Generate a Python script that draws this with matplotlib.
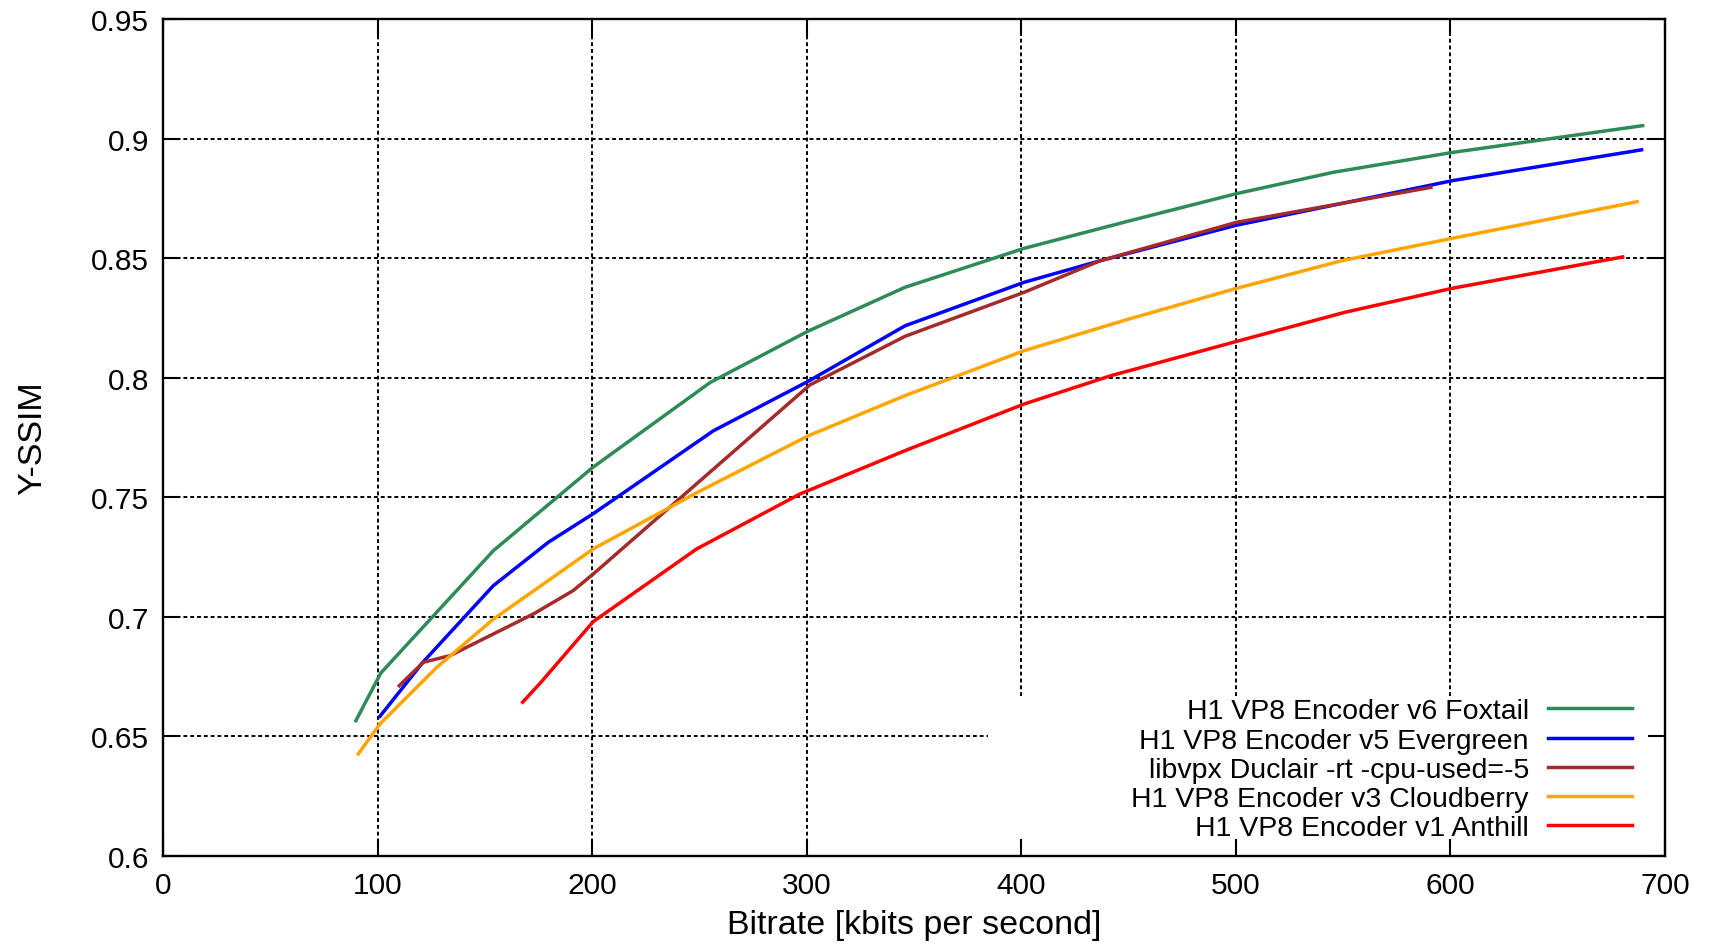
import matplotlib
matplotlib.use("Agg")
from matplotlib import pyplot as plt

# Bitrate (kbits/s) and Y-SSIM for each encoder
foxtail_kbps = [89.9, 101.5, 154.0, 200.3, 255.0, 300.7, 345.8, 401.3, 450.0, 500.4, 545.4, 600.9, 689.6]
foxtail_ssim = [0.6566, 0.6765, 0.7277, 0.7625, 0.7980, 0.8195, 0.8378, 0.8541, 0.8655, 0.8770, 0.8859, 0.8942, 0.9054]

evergreen_kbps = [101.1, 121.3, 153.9, 179.6, 200.3, 256.5, 300.7, 345.8, 401.3, 436.7, 500.4, 600.9, 689.1]
evergreen_ssim = [0.6584, 0.6812, 0.7130, 0.7312, 0.7430, 0.7778, 0.7985, 0.8217, 0.8399, 0.8489, 0.8638, 0.8824, 0.8953]

duclair_kbps = [110.1, 121.3, 133.8, 172.6, 191.2, 200.5, 301.5, 345.8, 401.3, 436.7, 500.4, 590.9]
duclair_ssim = [0.6712, 0.6810, 0.6838, 0.7012, 0.7110, 0.7179, 0.7970, 0.8173, 0.8357, 0.8489, 0.8650, 0.8796]

cloudberry_kbps = [91.0, 101.1, 127.6, 153.9, 200.5, 250.0, 300.7, 345.8, 401.3, 450.0, 500.4, 549.7, 600.9, 687.0]
cloudberry_ssim = [0.6427, 0.6552, 0.6789, 0.6990, 0.7284, 0.7525, 0.7757, 0.7925, 0.8113, 0.8245, 0.8374, 0.8490, 0.8583, 0.8736]

anthill_kbps = [167.6, 176.0, 200.5, 248.7, 296.9, 345.8, 401.3, 441.6, 500.4, 551.0, 600.9, 680.3]
anthill_ssim = [0.6643, 0.6725, 0.6980, 0.7284, 0.7514, 0.7695, 0.7890, 0.8008, 0.8152, 0.8274, 0.8374, 0.8505]

labels = [
    "H1 VP8 Encoder v6 Foxtail",
    "H1 VP8 Encoder v5 Evergreen",
    "libvpx Duclair -rt -cpu-used=-5",
    "H1 VP8 Encoder v3 Cloudberry",
    "H1 VP8 Encoder v1 Anthill",
]
colors = ["#2e8b57", "#0000ff", "#a52a2a", "#ffa500", "#ff0000"]

xticks = [0, 100, 200, 300, 400, 500, 600, 700]
yticks = [0.6, 0.65, 0.7, 0.75, 0.8, 0.85, 0.9, 0.95]
ytick_labels = ["0.6", "0.65", "0.7", "0.75", "0.8", "0.85", "0.9", "0.95"]

# opaque key box corner (data coords): grid is hidden below/right of it
key_left = 384.5
key_top = 0.667

plt.rcParams['font.family'] = ['Liberation Sans', 'DejaVu Sans']
fs_tick = 21.5
fs_key = 20.5
fs_label = 24.5

fig = plt.figure(figsize=(17.09, 9.45), dpi=100)
ax = fig.add_axes([163 / 1709, 1 - 857 / 945, (1665 - 163) / 1709, (857 - 20) / 945])

# dotted grid, cut by the key box like gnuplot does
grid_kw = dict(colors="black", linewidth=1.4, linestyles=(0, (2, 1.5)), zorder=1)
for x in xticks[1:-1]:
    ax.vlines(x, key_top if x > key_left else yticks[0], yticks[-1], **grid_kw)
for y in yticks[1:-1]:
    ax.hlines(y, xticks[0], key_left if y < key_top else xticks[-1], **grid_kw)

series = [
    (foxtail_kbps, foxtail_ssim),
    (evergreen_kbps, evergreen_ssim),
    (duclair_kbps, duclair_ssim),
    (cloudberry_kbps, cloudberry_ssim),
    (anthill_kbps, anthill_ssim),
]
for (xs, ys), lab, col in zip(series, labels, colors):
    ax.plot(xs, ys, color=col, linewidth=2.5, label=lab, zorder=3)

ax.set_xlim(xticks[0], xticks[-1])
ax.set_ylim(yticks[0], yticks[-1])
ax.set_xticks(xticks)
ax.set_yticks(yticks)
ax.set_yticklabels(ytick_labels)
ax.tick_params(direction="in", length=12.5, width=1.5, top=True, right=True,
               labelsize=fs_tick)
ax.tick_params(axis="x", pad=11)
ax.tick_params(axis="y", pad=10)
for sp in ax.spines.values():
    sp.set_linewidth(1.7)

ax.set_xlabel("Bitrate [kbits per second]", fontsize=fs_label, labelpad=7)
ax.set_ylabel("Y-SSIM", fontsize=fs_label, labelpad=31)

ax.legend(loc="lower right", bbox_to_anchor=(0.978, 0.018), markerfirst=False,
          frameon=False, handlelength=2.95, handletextpad=0.67,
          labelspacing=0.11, borderpad=0, borderaxespad=0, fontsize=fs_key)

fig.savefig("out.png", dpi=100)
